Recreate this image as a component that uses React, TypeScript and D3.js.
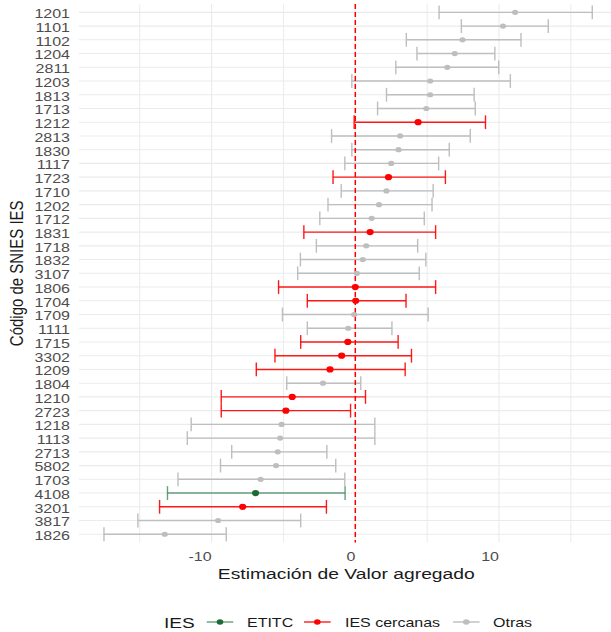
import React from "react";
import * as d3 from "d3";

const codes = ["1201","1101","1102","1204","2811","1203","1813","1713","1212","2813","1830","1117","1723","1710","1202","1712","1831","1718","1832","3107","1806","1704","1709","1111","1715","3302","1209","1804","1210","2723","1218","1113","2713","5802","1703","4108","3201","3817","1826"];
const estimates = [11.12,10.28,7.46,6.92,6.40,5.21,5.21,4.94,4.37,3.12,3.01,2.50,2.31,2.17,1.65,1.14,1.03,0.76,0.52,0.11,0.0,0.03,-0.08,-0.49,-0.52,-0.95,-1.76,-2.25,-4.39,-4.83,-5.13,-5.23,-5.40,-5.51,-6.59,-6.94,-7.84,-9.55,-13.26];
const lowers = [5.83,7.38,3.55,4.29,2.82,-0.24,2.17,1.55,-0.08,-1.65,-0.24,-0.73,-1.55,-0.98,-1.90,-2.47,-3.58,-2.71,-3.82,-4.01,-5.34,-3.34,-5.07,-3.34,-3.80,-5.59,-6.89,-4.77,-9.33,-9.33,-11.42,-11.69,-8.60,-9.38,-12.34,-13.07,-13.62,-15.13,-17.49];
const uppers = [16.49,13.43,11.53,9.71,9.98,10.79,8.27,8.35,9.06,8.0,6.54,5.80,6.27,5.42,5.34,4.80,5.59,4.34,4.91,4.45,5.59,3.53,5.07,2.55,2.98,3.91,3.47,0.38,0.71,-0.33,1.36,1.36,-1.98,-1.36,-0.73,-0.71,-2.01,-3.80,-8.98];
const groups = ["Otras","Otras","Otras","Otras","Otras","Otras","Otras","Otras","IES cercanas","Otras","Otras","Otras","IES cercanas","Otras","Otras","Otras","IES cercanas","Otras","Otras","Otras","IES cercanas","IES cercanas","Otras","Otras","IES cercanas","IES cercanas","IES cercanas","Otras","IES cercanas","IES cercanas","Otras","Otras","Otras","Otras","Otras","ETITC","IES cercanas","Otras","Otras"];
const legendLabels = ["ETITC", "IES cercanas", "Otras"];
const majorTicks = [-10, 0, 10];
const minorTicks = [-15, -5, 5, 15];

const lineColor: Record<string, string> = { "ETITC": "#3d8a57", "IES cercanas": "#ff0000", "Otras": "#bebebe" };
const pointColor: Record<string, string> = { "ETITC": "#1f6b36", "IES cercanas": "#ff0000", "Otras": "#bebebe" };
const lineOpacity: Record<string, number> = { "ETITC": 0.8, "IES cercanas": 0.9, "Otras": 1 };
const drawOrder: Record<string, number> = { "Otras": 0, "IES cercanas": 1, "ETITC": 2 };

const W = 611, H = 632;
const left = 79, right = 611, top = 4.1, bottom = 542.5;
const SX = 1.27;
const FONT = "'Liberation Sans', Arial, sans-serif";

export default function App() {
  const x = d3.scaleLinear().domain([0, 10]).range([355.3, 499.0]);
  const y = d3.scalePoint<string>().domain(codes).range([top, bottom]).padding(0.6);
  const rows = codes.map((c, i) => ({ c, est: estimates[i], lo: lowers[i], hi: uppers[i], g: groups[i] }))
    .sort((a, b) => drawOrder[a.g] - drawOrder[b.g]);
  const cap = 6.9;
  const legendY = 622;
  const legendKeys = [
    { label: legendLabels[0], x0: 206.7, tx: 247 },
    { label: legendLabels[1], x0: 304, tx: 345 },
    { label: legendLabels[2], x0: 453, tx: 493 },
  ];
  return (
    <svg width={W} height={H} style={{ position: "absolute", left: 0, top: 0, background: "#fff" }} fontFamily={FONT}>
      <rect x={0} y={0} width={W} height={H} fill="#fff" />
      {codes.map((c) => (
        <line key={"h" + c} x1={left} x2={right} y1={y(c)} y2={y(c)} stroke="#ebebeb" strokeWidth={1.1} />
      ))}
      {minorTicks.map((t) => (
        <line key={"mi" + t} x1={x(t)} x2={x(t)} y1={top} y2={bottom} stroke="#ebebeb" strokeWidth={1} />
      ))}
      {majorTicks.map((t) => (
        <line key={"ma" + t} x1={x(t)} x2={x(t)} y1={top} y2={bottom} stroke="#ebebeb" strokeWidth={1.1} />
      ))}
      {rows.map((r) => {
        const yy = y(r.c) as number;
        return (
          <g key={"e" + r.c} stroke={lineColor[r.g]} strokeOpacity={lineOpacity[r.g]} strokeWidth={1.4}>
            <line x1={x(r.lo)} x2={x(r.hi)} y1={yy} y2={yy} />
            <line x1={x(r.lo)} x2={x(r.lo)} y1={yy - cap} y2={yy + cap} />
            <line x1={x(r.hi)} x2={x(r.hi)} y1={yy - cap} y2={yy + cap} />
          </g>
        );
      })}
      <line x1={x(0)} x2={x(0)} y1={top} y2={bottom} stroke="#ff0000" strokeWidth={1.5} strokeDasharray="5,3" />
      {rows.map((r) => {
        const yy = y(r.c) as number;
        const big = r.g !== "Otras";
        return (
          <ellipse key={"p" + r.c} cx={x(r.est)} cy={yy} rx={big ? 3.6 : 3.1} ry={big ? 3.1 : 2.6} fill={pointColor[r.g]} />
        );
      })}
      {codes.map((c) => (
        <text key={"yl" + c} transform={`translate(70,${(y(c) as number) + 5.9}) scale(${SX},1)`} textAnchor="end" fontSize={12.6} fill="#4d4d4d">{c}</text>
      ))}
      {majorTicks.map((t) => (
        <text key={"xl" + t} transform={`translate(${x(t)},560.7) scale(${SX},1)`} textAnchor="end" fontSize={12.6} fill="#4d4d4d">{t < 0 ? "-" + Math.abs(t) : String(t)}</text>
      ))}
      <text transform={`translate(346.3,579.3) scale(${SX},1)`} textAnchor="middle" fontSize={15.2} fill="#1a1a1a">Estimación de Valor agregado</text>
      <text transform={`translate(22.5,273.3) scale(${SX},1) rotate(-90)`} textAnchor="middle" fontSize={15} fill="#1a1a1a">Código de SNIES IES</text>
      <text transform={`translate(164,627.5) scale(${SX},1)`} fontSize={15} fill="#1a1a1a">IES</text>
      {legendKeys.map((k) => (
        <g key={"lg" + k.label}>
          <line x1={k.x0} x2={k.x0 + 26.6} y1={legendY} y2={legendY} stroke={lineColor[k.label]} strokeOpacity={lineOpacity[k.label]} strokeWidth={1.4} />
          <ellipse cx={k.x0 + 13.3} cy={legendY} rx={3.3} ry={2.8} fill={pointColor[k.label]} />
          <text transform={`translate(${k.tx},627.3) scale(${SX},1)`} fontSize={12.6} fill="#1a1a1a">{k.label}</text>
        </g>
      ))}
    </svg>
  );
}
